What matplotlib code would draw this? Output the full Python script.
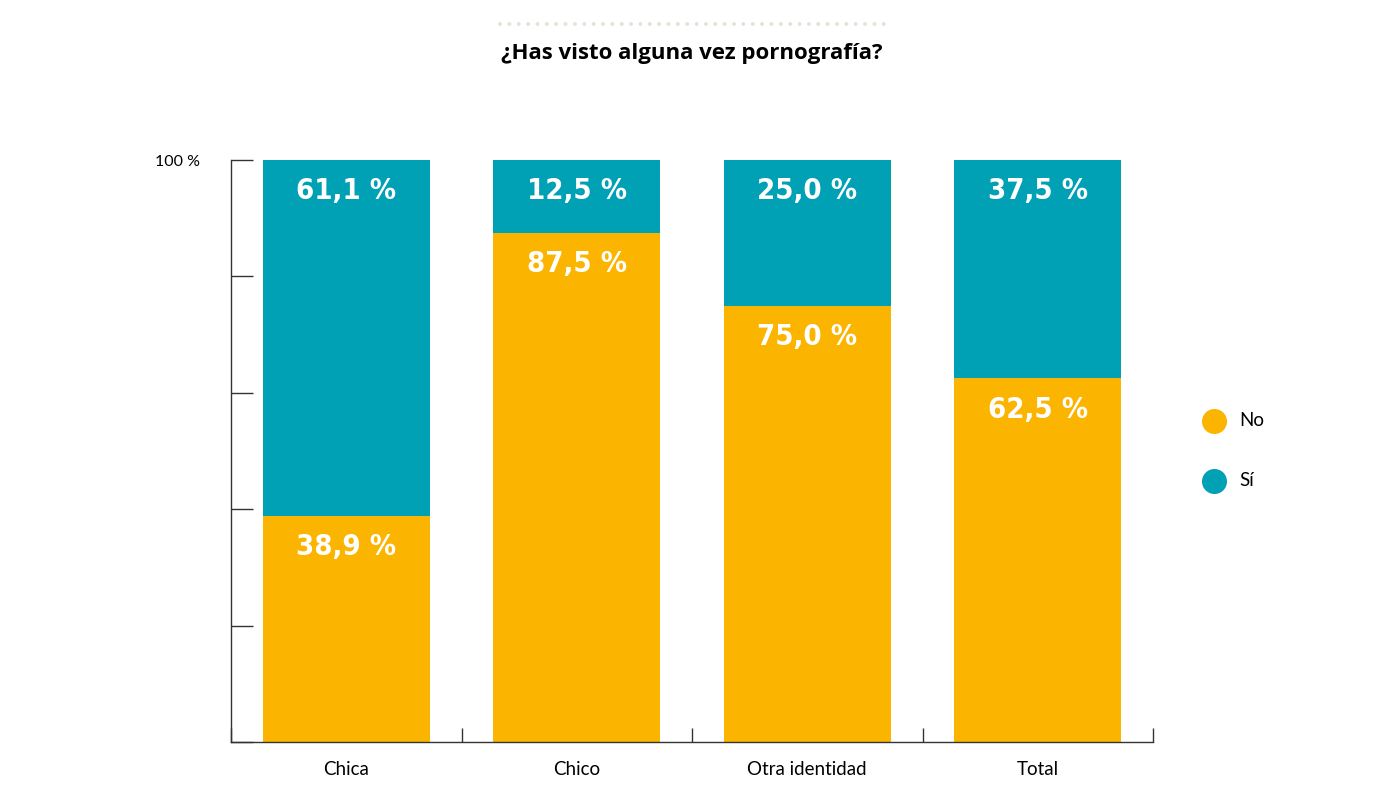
import matplotlib.pyplot as plt
from matplotlib.lines import Line2D

categories = ['Chica', 'Chico', 'Otra identidad', 'Total']
no_values = [38.9, 87.5, 75.0, 62.5]
si_values = [61.1, 12.5, 25.0, 37.5]
title = '¿Has visto alguna vez pornografía?'

YELLOW = '#FBB500'
TEAL = '#00A0B5'
AXIS = '#333333'
TEXT_FONT = ['Lato', 'DejaVu Sans']

W, H = 1384, 806
PT = 0.72  # points per pixel at dpi 100
fig = plt.figure(figsize=(W / 100, H / 100), dpi=100)
ax = fig.add_axes([231 / W, (H - 742) / H, (1153 - 231) / W, (742 - 160) / H])

x = range(len(categories))
bar_w = 0.724
ax.bar(x, no_values, width=bar_w, color=YELLOW, zorder=2)
ax.bar(x, si_values, width=bar_w, bottom=no_values, color=TEAL, zorder=2)

num_font = dict(family='DejaVu Sans', fontstretch='condensed', fontweight='bold',
                fontsize=21, color='white', ha='center', va='center')
for i, (n, s) in enumerate(zip(no_values, si_values)):
    ax.text(i, n + s - 5.4, f'{s:.1f} %'.replace('.', ','), **num_font)
    ax.text(i, n - 5.4, f'{n:.1f} %'.replace('.', ','), **num_font)

ax.set_xlim(-0.5, len(categories) - 0.5)
ax.set_ylim(0, 100)

for side in ['top', 'right']:
    ax.spines[side].set_visible(False)
for side in ['left', 'bottom']:
    ax.spines[side].set_color(AXIS)
    ax.spines[side].set_linewidth(1.0)

ax.set_yticks([0, 20, 40, 60, 80, 100])
ax.set_yticklabels(['', '', '', '', '', '100 %'], fontsize=11.5, family=TEXT_FONT)
ax.tick_params(axis='y', direction='in', length=22 * PT, width=1, color=AXIS, pad=31 * PT)

ax.set_xticks([i - 0.5 for i in range(len(categories) + 1)])
ax.set_xticklabels([])
ax.tick_params(axis='x', direction='in', length=14 * PT, width=1, color=AXIS)
for i, c in enumerate(categories):
    ax.text(i, -4.8, c, ha='center', va='center', fontsize=13.5, family=TEXT_FONT,
            clip_on=False)

# legend
for yy, lab, col in [(421, 'No', YELLOW), (481, 'Sí', TEAL)]:
    fig.add_artist(Line2D([1214 / W], [1 - yy / H], marker='o', markersize=17,
                          color=col, linestyle='none'))
    fig.text(1239 / W, 1 - yy / H, lab, ha='left', va='center', fontsize=13.5,
             family=TEXT_FONT)

# title with dotted line above
fig.add_artist(Line2D([500 / W, 886 / W], [1 - 24 / H, 1 - 24 / H], color='#E6E2D8',
                      linewidth=4 * PT, linestyle=(0, (0.01, 2.33)),
                      dash_capstyle='round'))
fig.text(692 / W, 1 - 53 / H, title, ha='center', va='center', fontsize=16,
         fontweight='bold', family=['Open Sans', 'DejaVu Sans'])

fig.savefig('out.png', dpi=100)
